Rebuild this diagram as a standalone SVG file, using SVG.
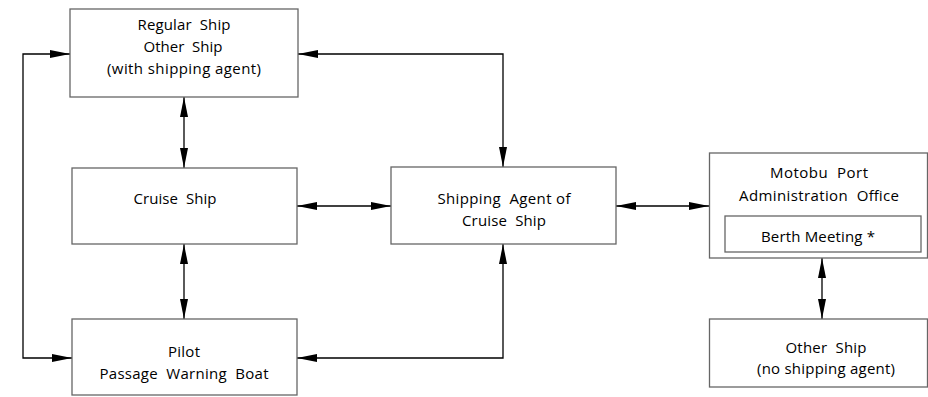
<svg xmlns="http://www.w3.org/2000/svg" width="928" height="397" viewBox="0 0 928 397">
<style>
.box{fill:#fff;stroke:#666;stroke-width:1.3}
.lbl{font-family:"Open Sans","Liberation Sans",sans-serif;font-size:15px;fill:#000;text-anchor:middle;white-space:pre}
.con{fill:none;stroke:#000;stroke-width:1.3;marker-start:url(#ah);marker-end:url(#ah)}
</style>
<defs>
<marker id="ah" markerUnits="userSpaceOnUse" markerWidth="20" markerHeight="8" viewBox="0 0 20 8" refX="20" refY="4" orient="auto-start-reverse">
<path d="M0,0 L20,4 L0,8 z" fill="#000"/>
</marker>
</defs>
<g id="connectors">
<path class="con" d="M70,54 H23 V358 H72"/>
<path class="con" d="M298,54 H503 V167"/>
<path class="con" d="M184,97 V168"/>
<path class="con" d="M184,244 V319"/>
<path class="con" d="M297,206 H391"/>
<path class="con" d="M616,206 H709"/>
<path class="con" d="M297,358 H503 V244"/>
<path class="con" d="M822,258 V319"/>
</g>
<g id="regular-ship">
<rect class="box" x="70" y="9" width="228" height="88"/>
<text class="lbl" x="184" y="29.5" textLength="93">Regular  Ship</text>
<text class="lbl" x="183" y="51.5" textLength="79">Other  Ship</text>
<text class="lbl" x="184" y="73.5" textLength="154">(with shipping agent)</text>
</g>
<g id="cruise-ship">
<rect class="box" x="72" y="168" width="225" height="76"/>
<text class="lbl" x="175" y="204" textLength="83">Cruise  Ship</text>
</g>
<g id="shipping-agent">
<rect class="box" x="391" y="167" width="225" height="77"/>
<text class="lbl" x="504" y="204" textLength="133">Shipping  Agent of</text>
<text class="lbl" x="504" y="226" textLength="84">Cruise  Ship</text>
</g>
<g id="pilot">
<rect class="box" x="72" y="319" width="225" height="76"/>
<text class="lbl" x="184" y="357" textLength="32">Pilot</text>
<text class="lbl" x="184" y="379" textLength="169">Passage  Warning  Boat</text>
</g>
<g id="motobu">
<rect class="box" x="709.5" y="153" width="218" height="105"/>
<text class="lbl" x="819" y="177.5" textLength="98">Motobu  Port</text>
<text class="lbl" x="819" y="200.5" textLength="160">Administration  Office</text>
<rect class="box" x="725" y="216" width="196" height="36"/>
<text class="lbl" x="818" y="241.5" textLength="114">Berth Meeting *</text>
</g>
<g id="other-ship">
<rect class="box" x="709.5" y="319" width="218" height="68"/>
<text class="lbl" x="826" y="353" textLength="81">Other  Ship</text>
<text class="lbl" x="826" y="374" textLength="138">(no shipping agent)</text>
</g>
</svg>
